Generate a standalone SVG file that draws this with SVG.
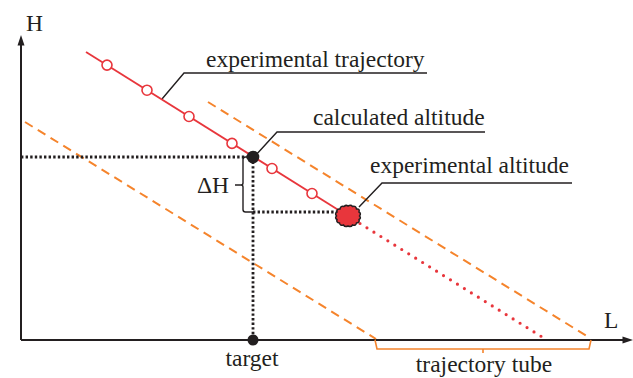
<svg xmlns="http://www.w3.org/2000/svg" width="633" height="378" viewBox="0 0 633 378">
<defs>
<style>
text{font-family:"Liberation Serif","Times New Roman",serif;font-size:23.5px;fill:#231f20}
.axis{stroke:#231f20;stroke-width:2;fill:none}
.lead{stroke:#231f20;stroke-width:1.4;fill:none}
.dot{stroke:#231f20;stroke-width:2.8;stroke-dasharray:2.4 2.2;fill:none}
.tube{stroke:#f5842c;stroke-width:2;stroke-dasharray:9 6;fill:none}
.traj{stroke:#e8363c;stroke-width:1.8;fill:none}
.trajdot{stroke:#e8363c;stroke-width:3.2;stroke-linecap:round;stroke-dasharray:0 8.2;fill:none}
.pt{fill:#fff;stroke:#e8363c;stroke-width:1.6}
.brace{stroke:#f5842c;stroke-width:1.6;fill:none}
</style>
</defs>
<rect width="633" height="378" fill="#fff"/>
<g id="axes">
<path class="axis" d="M21,340 V44 M21,340 H624"/>
<polygon points="21,35 17.5,45.5 24.5,45.5" fill="#231f20"/>
<polygon points="633,340 622.5,336.5 622.5,343.5" fill="#231f20"/>
<text x="26" y="31">H</text>
<text x="604" y="328">L</text>
</g>
<g id="tube-lines">
<line class="tube" x1="25" y1="122" x2="376" y2="339"/>
<line class="tube" x1="208" y1="102" x2="590" y2="338"/>
</g>
<g id="connectors">
<path class="dot" d="M21,157 H253 M253,157 V340 M253,212 H338"/>
<path class="lead" d="M162,99 L184,73 H427"/>
<path class="lead" d="M255,156 L277,132 H485"/>
<path class="lead" d="M359,207 L382,183 H572"/>
<path class="lead" d="M250,157 H245.5 Q243,157 243,159.5 V183 Q243,185 241,185 H235 M241,185 Q243,185 243,187 V209.5 Q243,212 245.5,212 H253"/>
<path class="brace" d="M375,340 L377,349 H589 L591,340 M483,349 V353"/>
</g>
<g id="trajectory">
<line class="traj" x1="86" y1="52" x2="340" y2="211"/>
<line class="trajdot" x1="360" y1="223.5" x2="547" y2="340"/>
<circle class="pt" cx="107" cy="65.1" r="5"/>
<circle class="pt" cx="147" cy="90.2" r="5"/>
<circle class="pt" cx="189" cy="116.5" r="5"/>
<circle class="pt" cx="232" cy="143.4" r="5"/>
<circle class="pt" cx="272" cy="168.5" r="5"/>
<circle class="pt" cx="312" cy="193.5" r="5"/>
</g>
<g id="calculated-altitude">
<circle cx="253" cy="157" r="6.3" fill="#231f20"/>
<text x="313" y="125">calculated altitude</text>
</g>
<g id="experimental-altitude">
<path d="M359.5,216 Q361.5,218 359,219.5 Q360,222.5 356.5,223 Q356,226 352.5,225 Q351,227.5 348,226 Q345,227.5 343.5,225 Q340,226 339.5,223 Q336,222.5 337,219.5 Q334.5,218 336.5,216 Q334.5,213.5 337,212 Q336.5,208.5 340,209 Q340.5,205.5 344,206.5 Q346,204.5 348,206 Q351,204.5 352.5,206.5 Q356,205.5 356.5,209 Q360,208.5 359,212 Q361.5,213.5 359.5,216 Z" fill="#e8363c" stroke="#231f20" stroke-width="1.5"/>
<text x="370" y="173">experimental altitude</text>
</g>
<g id="experimental-trajectory">
<text x="206" y="67">experimental trajectory</text>
</g>
<g id="delta-h">
<text x="229" y="193" text-anchor="end">ΔH</text>
</g>
<g id="target">
<circle cx="253" cy="340" r="5.5" fill="#231f20"/>
<text x="252" y="366" text-anchor="middle">target</text>
</g>
<g id="trajectory-tube">
<text x="484" y="372" text-anchor="middle">trajectory tube</text>
</g>
</svg>
